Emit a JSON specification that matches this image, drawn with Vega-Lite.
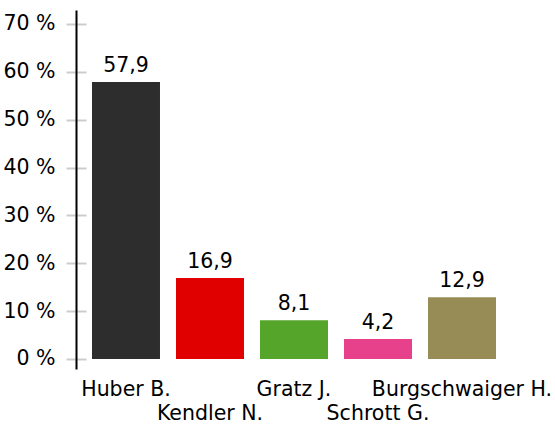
{
  "$schema": "https://vega.github.io/schema/vega-lite/v6.json",
  "width": 439,
  "height": 359,
  "autosize": {"type": "none"},
  "padding": {"left": 76, "top": 10, "right": 40, "bottom": 56},
  "background": "white",
  "config": {
    "view": {"stroke": null},
    "font": "DejaVu Sans",
    "locale": {"number": {"decimal": ",", "thousands": ".", "grouping": [3], "currency": ["", " €"]}}
  },
  "data": {
    "values": [
      {"kandidat": "Huber B.", "anteil": 57.9},
      {"kandidat": "Kendler N.", "anteil": 16.9},
      {"kandidat": "Gratz J.", "anteil": 8.1},
      {"kandidat": "Schrott G.", "anteil": 4.2},
      {"kandidat": "Burgschwaiger H.", "anteil": 12.9}
    ]
  },
  "encoding": {
    "x": {
      "field": "kandidat",
      "type": "nominal",
      "sort": null,
      "scale": {"paddingInner": 0.1905, "paddingOuter": 0.2083, "align": 0.457},
      "axis": {
        "title": null,
        "domain": false,
        "ticks": false,
        "tickSize": 0,
        "labelAngle": 0,
        "labelLimit": 0,
        "labelFont": "DejaVu Sans",
        "labelFontSize": 20.5,
        "labelColor": "black",
        "labelPadding": {"condition": {"test": "round(datum.index*4) % 2 == 1", "value": 34}, "value": 10}
      }
    }
  },
  "layer": [
    {
      "mark": {"type": "bar"},
      "encoding": {
        "y": {
          "field": "anteil",
          "type": "quantitative",
          "scale": {"domain": [-2.09, 72.925], "nice": false, "zero": false},
          "axis": {
            "title": null,
            "orient": "left",
            "offset": -10,
            "values": [0, 10, 20, 30, 40, 50, 60, 70],
            "grid": false,
            "domain": false,
            "ticks": true,
            "tickColor": "#cccccc",
            "tickWidth": 2,
            "tickSize": 20,
            "labelPadding": 11,
            "labelFont": "DejaVu Sans",
            "labelFontSize": 20.5,
            "labelColor": "black",
            "labelExpr": "datum.value + ' %'"
          }
        },
        "color": {
          "field": "kandidat",
          "type": "nominal",
          "scale": {
            "domain": ["Huber B.", "Kendler N.", "Gratz J.", "Schrott G.", "Burgschwaiger H."],
            "range": ["#2d2d2d", "#e10000", "#56a52b", "#e6418a", "#978c56"]
          },
          "legend": null
        }
      }
    },
    {
      "mark": {"type": "text", "baseline": "alphabetic", "dy": -10, "fontSize": 20.5, "font": "DejaVu Sans", "color": "black"},
      "encoding": {
        "y": {
          "field": "anteil",
          "type": "quantitative",
          "axis": {
            "title": null,
            "orient": "left",
            "offset": 0,
            "grid": false,
            "domain": true,
            "domainColor": "black",
            "domainWidth": 2,
            "labels": false,
            "ticks": false
          }
        },
        "text": {"field": "anteil", "type": "quantitative", "format": ".1f"}
      }
    },
    {
      "mark": {"type": "rule", "color": "black", "strokeWidth": 2},
      "encoding": {
        "y": {"datum": 0, "type": "quantitative", "axis": null}
      }
    }
  ],
  "resolve": {"axis": {"y": "independent"}}
}
